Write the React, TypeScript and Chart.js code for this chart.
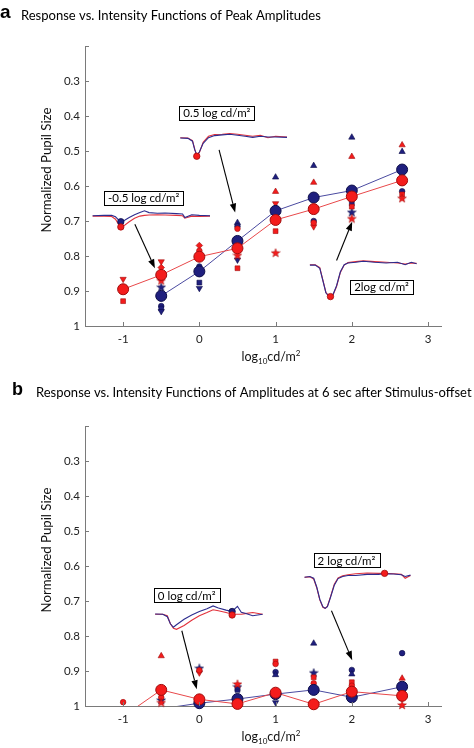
import React, { useEffect, useRef } from 'react';
import { Chart, registerables } from 'chart.js';
Chart.register(...registerables);

const FONT = 'Lato, "Noto Sans", sans-serif';
const AXIS = '#7a7a7a';
const RED = '#f41c1c';
const RED_EDGE = '#a00c0c';
const BLUE = '#1f1f7e';
const BLUE_EDGE = '#0c0c48';
const RED_LINE = '#e8484a';
const BLUE_LINE = '#4a4aa0';
const RED_TRACE = '#e2323c';
const BLUE_TRACE = '#2c2c8e';

const xTicks = [-1, 0, 1, 2, 3];
const yTicks = [0.2, 0.3, 0.4, 0.5, 0.6, 0.7, 0.8, 0.9, 1];
const intensities = [-1, -0.5, 0, 0.5, 1, 1.5, 2, 2.66];

// ---------- Panel a: peak amplitudes ----------
const aTitle = 'Response vs. Intensity Functions of Peak Amplitudes';
const aRedMean = [0.895, 0.854, 0.802, 0.778, 0.697, 0.666, 0.63, 0.584];
const aBlueMean = [null, 0.914, 0.844, 0.757, 0.671, 0.633, 0.613, 0.553];
const aRedIndX = [-1, -1, -0.5, -0.5, -0.5, 0, 0, 0.5, 0.5, 0.5, 1, 1, 1, 1, 1.5, 1.5, 1.5, 2, 2, 2, 2.66, 2.66, 2.66];
const aRedIndY = [0.866, 0.929, 0.816, 0.833, 0.87, 0.77, 0.785, 0.722, 0.798, 0.835, 0.616, 0.65, 0.729, 0.791, 0.59, 0.716, 0.705, 0.516, 0.659, 0.693, 0.483, 0.624, 0.635];
const aRedIndShape = ['v', 's', 'v', 'd', 'p', 'd', 'o', 'o', 'p', 's', '^', 'v', 's', 'p', '^', 'v', 'o', '^', 's', 'p', '^', 's', 'p'];
const aBlueIndX = [-0.5, -0.5, -0.5, -0.5, 0, 0, 0, 0.5, 0.5, 0.5, 1, 1.5, 1.5, 2, 2, 2, 2.66, 2.66];
const aBlueIndY = [0.889, 0.943, 0.95, 0.958, 0.83, 0.876, 0.892, 0.705, 0.715, 0.811, 0.575, 0.542, 0.7, 0.461, 0.65, 0.675, 0.502, 0.615];
const aBlueIndShape = ['p', 'o', 's', 'v', 'o', 's', 'v', '^', 'o', 'v', '^', '^', 'o', '^', 's', 'p', '^', 'o'];

const a1TraceX = [-1.4, -1.25, -1.15, -1.1, -1.06, -1.03, -0.98, -0.92, -0.85, -0.78, -0.72, -0.66, -0.55, -0.45, -0.3, -0.22, -0.19, -0.1, 0.0, 0.14];
const a1TraceBlue = [0.685, 0.684, 0.684, 0.688, 0.697, 0.702, 0.698, 0.69, 0.682, 0.676, 0.671, 0.676, 0.678, 0.677, 0.679, 0.68, 0.69, 0.682, 0.684, 0.685];
const a1TraceRed = [0.686, 0.686, 0.687, 0.695, 0.71, 0.717, 0.712, 0.702, 0.692, 0.686, 0.684, 0.683, 0.682, 0.683, 0.684, 0.685, 0.692, 0.686, 0.687, 0.686];
const a2TraceX = [-0.25, -0.15, -0.09, -0.06, -0.034, 0.0, 0.05, 0.12, 0.2, 0.3, 0.4, 0.5, 0.6, 0.7, 0.8, 0.9, 1.0, 1.15];
const a2TraceRed = [0.462, 0.463, 0.47, 0.495, 0.513, 0.505, 0.475, 0.458, 0.453, 0.452, 0.45, 0.452, 0.455, 0.458, 0.455, 0.462, 0.458, 0.46];
const a2TraceBlue = [0.463, 0.464, 0.472, 0.497, 0.511, 0.503, 0.478, 0.462, 0.456, 0.454, 0.452, 0.455, 0.458, 0.461, 0.458, 0.46, 0.46, 0.461];
const a3TraceX = [1.45, 1.52, 1.58, 1.62, 1.66, 1.7, 1.72, 1.75, 1.8, 1.85, 1.9, 1.95, 2.05, 2.15, 2.3, 2.45, 2.6, 2.7, 2.78, 2.85];
const a3TraceBlue = [0.826, 0.826, 0.835, 0.87, 0.905, 0.915, 0.916, 0.912, 0.885, 0.845, 0.825, 0.82, 0.818, 0.815, 0.818, 0.82, 0.818, 0.825, 0.818, 0.822];
const a3TraceRed = [0.825, 0.825, 0.833, 0.868, 0.904, 0.915, 0.917, 0.913, 0.887, 0.847, 0.826, 0.819, 0.816, 0.814, 0.816, 0.818, 0.82, 0.823, 0.82, 0.821];
const aTraceDotX = [-1.03, -1.03, -0.034, 1.72];
const aTraceDotY = [0.702, 0.717, 0.515, 0.916];
const aTraceDotColor = ['b', 'r', 'r', 'r'];

const aBoxLabels = ['-0.5 log cd/m²', '0.5 log cd/m²', '2log cd/m²'];
const aBoxX = [-0.73, 0.23, 2.39];
const aBoxY = [0.634, 0.391, 0.889];
const aArrowFromX = [-0.846, 0.259, 1.8];
const aArrowFromY = [0.709, 0.497, 0.813];
const aArrowToX = [-0.583, 0.47, 2.005];
const aArrowToY = [0.835, 0.676, 0.702];

// ---------- Panel b: amplitudes 6 s after offset ----------
const bTitle = 'Response vs. Intensity Functions of Amplitudes at 6 sec after Stimulus-offset';
const bRedMean = [1.03, 0.954, 0.981, 0.994, 0.962, 0.995, 0.959, 0.971];
const bBlueMean = [null, 1.008, 0.992, 0.98, 0.966, 0.954, 0.975, 0.945];
const bRedIndX = [-1, -0.5, -0.5, -0.5, -0.5, 0, 0, 0.5, 1, 1, 1.5, 1.5, 2, 2, 2.66, 2.66];
const bRedIndY = [0.989, 0.857, 0.967, 0.975, 0.99, 0.905, 0.898, 0.937, 0.873, 0.88, 0.918, 0.935, 0.932, 0.942, 0.921, 0.997];
const bRedIndShape = ['o', '^', 'v', 'o', 'p', 'v', 'o', 'p', 's', 'o', 's', 'o', 's', 'o', '^', 'p'];
const bBlueIndX = [-0.5, 0, 0.5, 0.5, 1, 1, 1, 1.5, 1.5, 2, 2, 2.66];
const bBlueIndY = [0.983, 0.892, 0.954, 0.945, 0.903, 0.911, 0.99, 0.821, 0.905, 0.897, 0.909, 0.849];
const bBlueIndShape = ['p', 'p', 's', 'p', 'o', '^', 'v', '^', 'p', 'o', '^', 'o'];

const b1TraceX = [-0.58, -0.48, -0.42, -0.38, -0.34, -0.3, -0.2, -0.1, 0.0, 0.1, 0.18, 0.25, 0.35, 0.43, 0.5, 0.55, 0.6, 0.7, 0.83];
const b1TraceBlue = [0.737, 0.738, 0.745, 0.765, 0.775, 0.768, 0.752, 0.74, 0.73, 0.722, 0.714, 0.72, 0.726, 0.73, 0.715, 0.732, 0.735, 0.742, 0.738];
const b1TraceRed = [0.738, 0.738, 0.742, 0.765, 0.778, 0.781, 0.77, 0.755, 0.742, 0.733, 0.725, 0.728, 0.733, 0.738, 0.738, 0.738, 0.736, 0.733, 0.738];
const b2TraceX = [1.38, 1.45, 1.5, 1.54, 1.58, 1.62, 1.65, 1.68, 1.72, 1.77, 1.82, 1.88, 1.95, 2.05, 2.2, 2.35, 2.43, 2.55, 2.65, 2.7, 2.77];
const b2TraceBlue = [0.632, 0.63, 0.635, 0.66, 0.695, 0.716, 0.721, 0.716, 0.69, 0.655, 0.636, 0.63, 0.627, 0.627, 0.624, 0.624, 0.622, 0.623, 0.625, 0.63, 0.626];
const b2TraceRed = [0.632, 0.631, 0.637, 0.662, 0.697, 0.718, 0.721, 0.715, 0.688, 0.652, 0.634, 0.628, 0.625, 0.622, 0.62, 0.621, 0.621, 0.622, 0.624, 0.635, 0.627];
const bTraceDotX = [0.43, 0.43, 2.43];
const bTraceDotY = [0.73, 0.74, 0.621];
const bTraceDotColor = ['b', 'r', 'r'];

const bBoxLabels = ['0 log cd/m²', '2 log cd/m²'];
const bBoxX = [-0.166, 1.93];
const bBoxY = [0.684, 0.584];
const bArrowFromX = [-0.23, 1.733];
const bArrowFromY = [0.785, 0.728];
const bArrowToX = [-0.034, 2.005];
const bArrowToY = [0.952, 0.869];

// ---------- helpers ----------
function makeStar(fill: string, edge: string) {
  const c = document.createElement('canvas');
  c.width = 10; c.height = 10;
  const g = c.getContext('2d')!;
  g.beginPath();
  for (let i = 0; i < 10; i++) {
    const r = i % 2 === 0 ? 4.6 : 1.9;
    const a = -Math.PI / 2 + (i * Math.PI) / 5;
    const px = 5 + r * Math.cos(a);
    const py = 5.3 + r * Math.sin(a);
    if (i === 0) g.moveTo(px, py); else g.lineTo(px, py);
  }
  g.closePath();
  g.fillStyle = fill; g.fill();
  g.strokeStyle = edge; g.lineWidth = 0.5; g.stroke();
  return c;
}

function indDataset(xs: number[], ys: number[], shapes: string[], fill: string, edge: string, star: any, order: number) {
  const styles = shapes.map((s) => (s === 'o' ? 'circle' : s === '^' || s === 'v' ? 'triangle' : s === 's' ? 'rect' : s === 'd' ? 'rectRot' : star));
  const rot = shapes.map((s) => (s === 'v' ? 180 : 0));
  const rad = shapes.map((s) => (s === 'o' ? 2.8 : s === 's' ? 3.4 : s === 'd' ? 3.3 : 3.6));
  return {
    type: 'scatter',
    data: xs.map((x, i) => ({ x, y: ys[i] })),
    pointStyle: styles,
    rotation: rot,
    pointRadius: rad,
    backgroundColor: fill,
    borderColor: edge,
    pointBorderWidth: 0.6,
    clip: false,
    order,
  };
}

function traceDatasets(xs: number[], blue: number[], red: number[], order: number) {
  return [
    { type: 'scatter', data: xs.map((x, i) => ({ x, y: red[i] })), showLine: true, borderColor: RED_TRACE, borderWidth: 1.1, pointRadius: 0, order: order + 1, tension: 0 },
    { type: 'scatter', data: xs.map((x, i) => ({ x, y: blue[i] })), showLine: true, borderColor: BLUE_TRACE, borderWidth: 1.1, pointRadius: 0, order, tension: 0 },
  ];
}

function drawXTitle(ctx: CanvasRenderingContext2D, cx: number, base: number) {
  const parts = [
    { t: 'log', s: 12.5, dy: 0 },
    { t: '10', s: 8, dy: 3 },
    { t: 'cd/m', s: 12.5, dy: 0 },
    { t: '2', s: 8, dy: -5.5 },
  ];
  let total = 0;
  const w = parts.map((p) => { ctx.font = `${p.s}px ${FONT}`; const m = ctx.measureText(p.t).width; total += m; return m; });
  let x = cx - total / 2;
  ctx.fillStyle = '#111';
  ctx.textAlign = 'left';
  ctx.textBaseline = 'alphabetic';
  parts.forEach((p, i) => { ctx.font = `${p.s}px ${FONT}`; ctx.fillText(p.t, x, base + p.dy); x += w[i]; });
}

function fitText(ctx: CanvasRenderingContext2D, text: string, target: number, weight = '') {
  ctx.font = `${weight} 12px ${FONT}`;
  const w = ctx.measureText(text).width;
  return (12 * target) / w;
}

function makeConfig(p: any) {
  const star = { r: makeStar(RED, RED_EDGE), b: makeStar(BLUE, BLUE_EDGE) };
  const meanPts = (arr: (number | null)[]) => intensities.map((x, i) => ({ x, y: arr[i] })).filter((d) => d.y !== null && (d.y as number) <= 1);
  const linePts = (arr: (number | null)[]) => intensities.map((x, i) => ({ x, y: arr[i] })).filter((d) => d.y !== null);

  const datasets: any[] = [
    ...p.traces.flatMap((t: any, k: number) => traceDatasets(t.x, t.blue, t.red, 20 + 2 * k)),
    indDataset(p.blueIndX, p.blueIndY, p.blueIndShape, BLUE, BLUE_EDGE, star.b, 11),
    indDataset(p.redIndX, p.redIndY, p.redIndShape, RED, RED_EDGE, star.r, 10),
    { type: 'scatter', data: linePts(p.blueMean), showLine: true, borderColor: BLUE_LINE, borderWidth: 1, pointRadius: 0, order: 9 },
    { type: 'scatter', data: linePts(p.redMean), showLine: true, borderColor: RED_LINE, borderWidth: 1, pointRadius: 0, order: 8 },
    { type: 'scatter', data: meanPts(p.blueMean), pointRadius: 5.5, backgroundColor: BLUE, borderColor: BLUE_EDGE, pointBorderWidth: 1, clip: false, order: 5 },
    { type: 'scatter', data: meanPts(p.redMean), pointRadius: 5.5, backgroundColor: RED, borderColor: RED_EDGE, pointBorderWidth: 1, clip: false, order: 4 },
    {
      type: 'scatter',
      data: p.dotX.map((x: number, i: number) => ({ x, y: p.dotY[i] })),
      pointRadius: 3.2,
      backgroundColor: p.dotColor.map((c: string) => (c === 'r' ? RED : BLUE)),
      borderColor: p.dotColor.map((c: string) => (c === 'r' ? RED_EDGE : BLUE_EDGE)),
      pointBorderWidth: 0.8,
      clip: false,
      order: 1,
    },
  ];

  const plugin = {
    id: 'decor' + p.key,
    afterDatasetsDraw(chart: any) {
      const { ctx, chartArea, scales } = chart;
      const xs = scales.x, ys = scales.y;
      ctx.save();
      // inward ticks
      ctx.strokeStyle = AXIS; ctx.lineWidth = 1;
      xTicks.forEach((v) => { const px = Math.round(xs.getPixelForValue(v)) + 0.5; ctx.beginPath(); ctx.moveTo(px, chartArea.bottom); ctx.lineTo(px, chartArea.bottom - 4); ctx.stroke(); });
      yTicks.forEach((v) => { const py = Math.round(ys.getPixelForValue(v)) + 0.5; ctx.beginPath(); ctx.moveTo(chartArea.left, py); ctx.lineTo(chartArea.left + 4, py); ctx.stroke(); });
      // arrows
      ctx.strokeStyle = '#000'; ctx.fillStyle = '#000'; ctx.lineWidth = 1.1;
      p.arrowFromX.forEach((fx: number, i: number) => {
        const x0 = xs.getPixelForValue(fx), y0 = ys.getPixelForValue(p.arrowFromY[i]);
        const x1 = xs.getPixelForValue(p.arrowToX[i]), y1 = ys.getPixelForValue(p.arrowToY[i]);
        const ang = Math.atan2(y1 - y0, x1 - x0);
        const L = 9, Wd = 3.2;
        const bx = x1 - L * Math.cos(ang), by = y1 - L * Math.sin(ang);
        ctx.beginPath(); ctx.moveTo(x0, y0); ctx.lineTo(bx, by); ctx.stroke();
        ctx.beginPath();
        ctx.moveTo(x1, y1);
        ctx.lineTo(bx + Wd * Math.sin(ang), by - Wd * Math.cos(ang));
        ctx.lineTo(bx - Wd * Math.sin(ang), by + Wd * Math.cos(ang));
        ctx.closePath(); ctx.fill();
      });
      // boxes
      ctx.font = `11.5px ${FONT}`;
      ctx.textAlign = 'center'; ctx.textBaseline = 'middle';
      p.boxLabels.forEach((t: string, i: number) => {
        const cx = xs.getPixelForValue(p.boxX[i]), cy = ys.getPixelForValue(p.boxY[i]);
        const w = ctx.measureText(t).width + 8, h = 14;
        ctx.fillStyle = '#fff';
        ctx.fillRect(Math.round(cx - w / 2) + 0.5, Math.round(cy - h / 2) + 0.5, Math.round(w), h);
        ctx.strokeStyle = '#000'; ctx.lineWidth = 1;
        ctx.strokeRect(Math.round(cx - w / 2) + 0.5, Math.round(cy - h / 2) + 0.5, Math.round(w), h);
        ctx.fillStyle = '#000';
        ctx.fillText(t, cx, cy + 0.5);
      });
      // headings
      ctx.textAlign = 'left'; ctx.textBaseline = 'alphabetic'; ctx.fillStyle = '#000';
      ctx.font = `bold ${p.letterSize}px "Liberation Sans", Arial, sans-serif`;
      ctx.fillText(p.letter, p.letterX, p.letterBase);
      const fs = fitText(ctx, p.title, p.titleW);
      ctx.font = `${fs}px ${FONT}`;
      ctx.fillText(p.title, p.titleX, p.titleBase);
      // y title
      const yfs = fitText(ctx, 'Normalized Pupil Size', 125);
      ctx.save();
      ctx.translate(51, 170);
      ctx.rotate(-Math.PI / 2);
      ctx.font = `${yfs}px ${FONT}`; ctx.textAlign = 'center'; ctx.fillStyle = '#111';
      ctx.fillText('Normalized Pupil Size', 0, 0);
      ctx.restore();
      // x title
      drawXTitle(ctx, 271, chartArea.bottom + 35);
      ctx.restore();
    },
  };

  return {
    type: 'scatter',
    data: { datasets },
    plugins: [plugin],
    options: {
      responsive: false,
      animation: false,
      devicePixelRatio: 1,
      layout: { padding: { left: 0, right: 33, top: 46, bottom: 0 } },
      plugins: { legend: { display: false }, tooltip: { enabled: false }, title: { display: false } },
      scales: {
        x: {
          type: 'linear', min: -1.5, max: 3.17,
          grid: { display: false, drawTicks: false },
          border: { display: true, color: AXIS, width: 1 },
          ticks: { padding: 6, color: '#222', font: { family: FONT, size: 11.5 }, callback: (v: number) => String(v) },
          afterBuildTicks: (s: any) => { s.ticks = xTicks.map((v) => ({ value: v })); },
          afterFit: (s: any) => { s.height = p.xAxisH; },
        },
        y: {
          type: 'linear', reverse: true, min: 0.2, max: 1,
          grid: { display: false, drawTicks: false },
          border: { display: true, color: AXIS, width: 1 },
          ticks: { padding: 5, color: '#222', font: { family: FONT, size: 11.5 }, callback: (v: number) => (Math.abs(v - 0.2) < 1e-6 ? '' : String(Math.round(v * 10) / 10)) },
          afterBuildTicks: (s: any) => { s.ticks = yTicks.map((v) => ({ value: v })); },
          afterFit: (s: any) => { s.width = 85; },
        },
      },
    },
  };
}

const panelA = {
  key: 'a', letter: 'a', letterX: 0, letterBase: 18, letterSize: 19,
  title: aTitle, titleX: 21, titleW: 300, titleBase: 20, xAxisH: 54,
  redMean: aRedMean, blueMean: aBlueMean,
  redIndX: aRedIndX, redIndY: aRedIndY, redIndShape: aRedIndShape,
  blueIndX: aBlueIndX, blueIndY: aBlueIndY, blueIndShape: aBlueIndShape,
  traces: [
    { x: a1TraceX, blue: a1TraceBlue, red: a1TraceRed },
    { x: a2TraceX, blue: a2TraceBlue, red: a2TraceRed },
    { x: a3TraceX, blue: a3TraceBlue, red: a3TraceRed },
  ],
  dotX: aTraceDotX, dotY: aTraceDotY, dotColor: aTraceDotColor,
  boxLabels: aBoxLabels, boxX: aBoxX, boxY: aBoxY,
  arrowFromX: aArrowFromX, arrowFromY: aArrowFromY, arrowToX: aArrowToX, arrowToY: aArrowToY,
};

const panelB = {
  key: 'b', letter: 'b', letterX: 12, letterBase: 15, letterSize: 18,
  title: bTitle, titleX: 36, titleW: 436, titleBase: 17, xAxisH: 42,
  redMean: bRedMean, blueMean: bBlueMean,
  redIndX: bRedIndX, redIndY: bRedIndY, redIndShape: bRedIndShape,
  blueIndX: bBlueIndX, blueIndY: bBlueIndY, blueIndShape: bBlueIndShape,
  traces: [
    { x: b1TraceX, blue: b1TraceBlue, red: b1TraceRed },
    { x: b2TraceX, blue: b2TraceBlue, red: b2TraceRed },
  ],
  dotX: bTraceDotX, dotY: bTraceDotY, dotColor: bTraceDotColor,
  boxLabels: bBoxLabels, boxX: bBoxX, boxY: bBoxY,
  arrowFromX: bArrowFromX, arrowFromY: bArrowFromY, arrowToX: bArrowToX, arrowToY: bArrowToY,
};

function Panel({ cfg, top, height }: { cfg: any; top: number; height: number }) {
  const ref = useRef<HTMLCanvasElement | null>(null);
  useEffect(() => {
    if (!ref.current) return;
    const chart = new Chart(ref.current, makeConfig(cfg) as any);
    return () => chart.destroy();
  }, [cfg]);
  return (
    <canvas ref={ref} width={474} height={height} style={{ position: 'absolute', left: 0, top, width: 474, height }} />
  );
}

export default function App() {
  return (
    <div style={{ position: 'absolute', left: 0, top: 0, width: 474, height: 748, background: '#fff' }}>
      <Panel cfg={panelA} top={0} height={380} />
      <Panel cfg={panelB} top={380} height={368} />
    </div>
  );
}
